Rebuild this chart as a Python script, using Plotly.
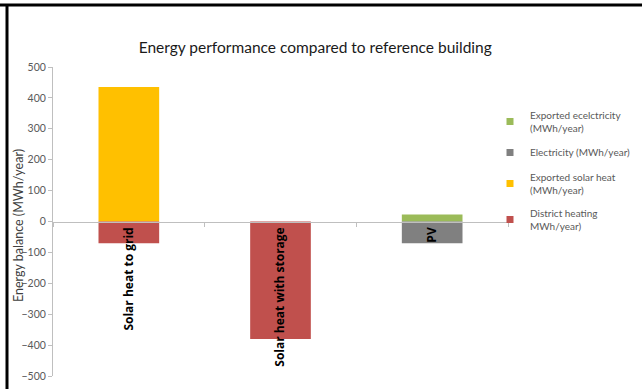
import plotly.graph_objects as go

# Scenarios compared against the reference building
categories = ["Solar heat to grid", "Solar heat with storage", "PV"]

# Annual energy balance per scenario (MWh/year)
district_heating = [-70, -380, 0]
exported_solar_heat = [435, 0, 0]
electricity = [0, 0, -70]
exported_electricity = [0, 0, 23]

series = [
    ("Exported ecelctricity<br>(MWh/year)", exported_electricity, "#9BBB59"),
    ("Electricity (MWh/year)", electricity, "#808080"),
    ("Exported solar heat<br>(MWh/year)", exported_solar_heat, "#FFC000"),
    ("District heating<br>MWh/year)", district_heating, "#C0504D"),
]

W, H = 642, 389
ML, MR, MT, MB = 53, 134, 67, 13
pw, ph = W - ML - MR, H - MT - MB


def px_x(v):
    return (v - ML) / pw


def px_y(v):
    return (H - MB - v) / ph


fig = go.Figure()
for i, (name, vals, color) in enumerate(series):
    fig.add_trace(go.Bar(
        x=categories, y=vals, name=name, marker_color=color,
        marker_line_width=0, showlegend=False,
    ))
    # small square swatch for the legend
    fig.add_trace(go.Scatter(
        x=[None], y=[None], mode="markers", name=name,
        marker=dict(symbol="square", size=7, color=color),
        legendgroup=f"g{i}", showlegend=True,
    ))

fig.update_layout(
    width=W, height=H,
    margin=dict(l=ML, r=MR, t=MT, b=MB, autoexpand=False),
    paper_bgcolor="white", plot_bgcolor="white",
    barmode="relative", bargap=0.6,
    font=dict(family="Lato, Open Sans, sans-serif", color="#595959"),
    title=dict(
        text="Energy performance compared to reference building",
        x=0.491, xanchor="center", xref="container",
        y=1 - 48 / H, yanchor="middle", yref="container",
        font=dict(size=15.5, color="#1a1a1a", family="Lato, sans-serif"),
    ),
    legend=dict(
        x=px_x(490), xanchor="left",
        y=px_y(102), yanchor="top",
        font=dict(size=10, color="#595959"),
        tracegroupgap=7, itemsizing="trace", itemwidth=30,
        bgcolor="rgba(0,0,0,0)",
    ),
    xaxis=dict(
        anchor="free", position=0.5, automargin=False,
        showline=True, linecolor="#BFBFBF", linewidth=1,
        ticks="outside", ticklen=4, tickcolor="#BFBFBF", tickson="boundaries",
        tickangle=-90,
        tickfont=dict(size=12, color="black", family="Open Sans, sans-serif", weight="bold"),
        showgrid=False, zeroline=False,
    ),
    yaxis=dict(
        range=[-500, 500], dtick=100, automargin=False,
        showline=True, linecolor="#BFBFBF", linewidth=1,
        ticks="outside", ticklen=4, tickcolor="#BFBFBF",
        tickfont=dict(size=10.5, color="#595959"),
        showgrid=False, zeroline=False,
    ),
    annotations=[dict(
        text="Energy balance (MWh/year)", textangle=-90,
        xref="paper", yref="paper", x=px_x(18), y=px_y(226),
        xanchor="center", yanchor="middle", showarrow=False,
        font=dict(size=12.5, color="#404040"),
    )],
)

# Frame lines along the top and left edges of the figure
fig.add_shape(type="line", xref="paper", yref="paper",
              x0=px_x(0), x1=px_x(W), y0=px_y(5), y1=px_y(5),
              line=dict(color="black", width=3))
fig.add_shape(type="line", xref="paper", yref="paper",
              x0=px_x(7), x1=px_x(7), y0=px_y(4), y1=px_y(H),
              line=dict(color="black", width=3))

fig.write_html("out.html", config={"displayModeBar": False})
